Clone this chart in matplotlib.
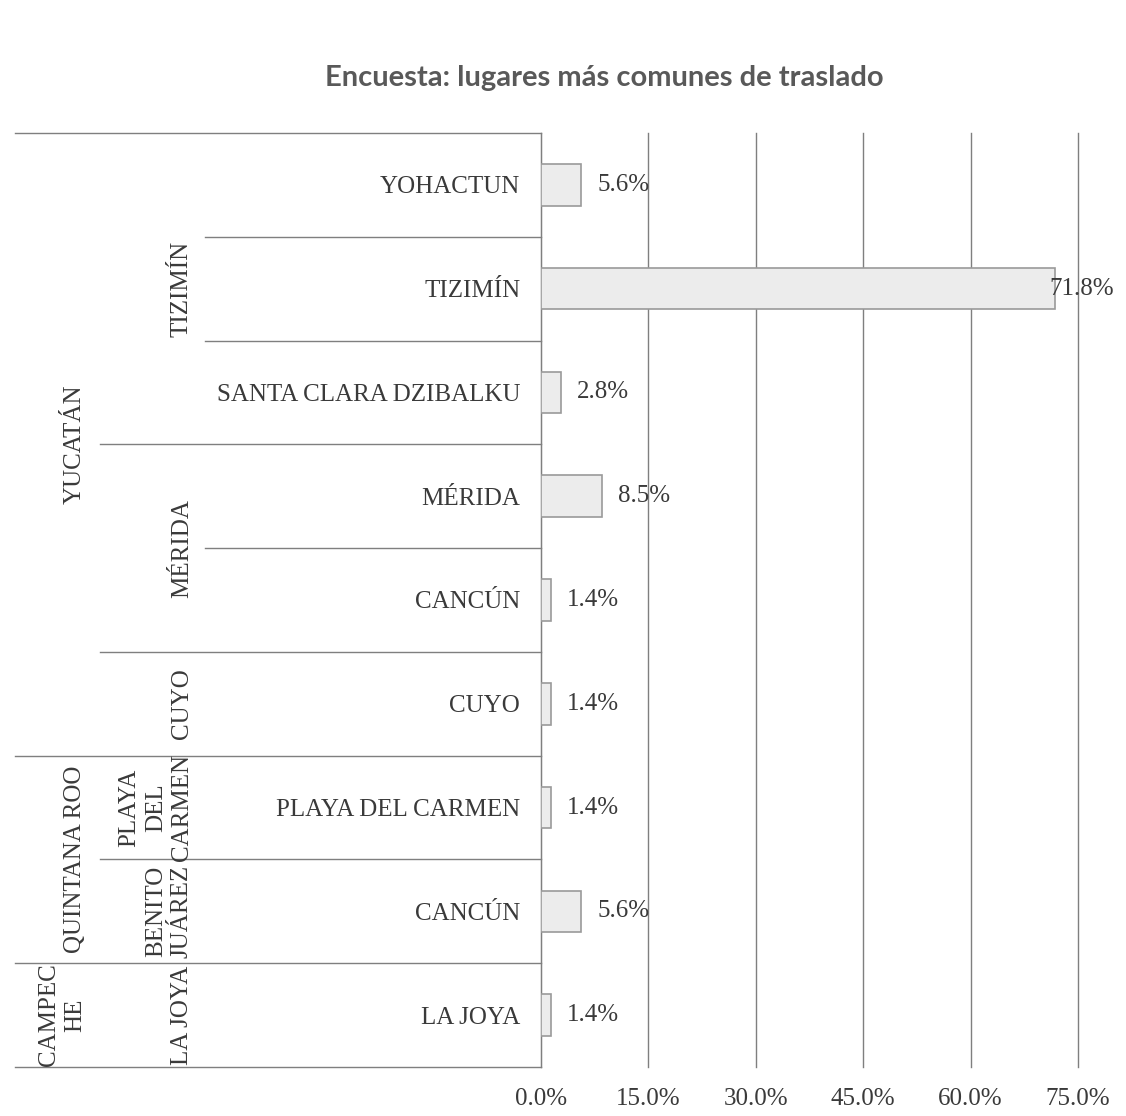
import matplotlib.pyplot as plt
import matplotlib.transforms as mtransforms

# =========================
# DATOS
# =========================

lugares = ["YOHACTUN", "TIZIMÍN", "SANTA CLARA DZIBALKU", "MÉRIDA", "CANCÚN",
           "CUYO", "PLAYA DEL CARMEN", "CANCÚN", "LA JOYA"]
porcentajes = [5.6, 71.8, 2.8, 8.5, 1.4, 1.4, 1.4, 5.6, 1.4]

# (etiqueta, primera fila, última fila)
municipios = [("TIZIMÍN", 0, 2), ("MÉRIDA", 3, 4), ("CUYO", 5, 5),
              ("PLAYA\nDEL\nCARMEN", 6, 6), ("BENITO\nJUÁREZ", 7, 7), ("LA JOYA", 8, 8)]
estados = [("YUCATÁN", 0, 5), ("QUINTANA ROO", 6, 7), ("CAMPEC\nHE", 8, 8)]

ticks = [0, 15, 30, 45, 60, 75]
titulo = "Encuesta: lugares más comunes de traslado"

# =========================
# ESTILO
# =========================

fs = 18
plt.rcParams.update({
    "font.family": ["Liberation Serif", "DejaVu Serif"],
    "font.size": fs,
    "text.color": "#3a3a3a",
})
gris = "#7f7f7f"

W, H = 1126, 1116
fig = plt.figure(figsize=(W / 100, H / 100), dpi=100)
x0, x1, ytop, ybot = 541, 1078, 133, 1067
ax = fig.add_axes([x0 / W, 1 - ybot / H, (x1 - x0) / W, (ybot - ytop) / H])

y = list(range(len(lugares)))
ax.barh(y, porcentajes, height=0.4, color="#ececec", edgecolor="#9a9a9a", linewidth=1.2, zorder=3)

for yi, v in zip(y, porcentajes):
    off = 16 if v < 70 else -6
    ax.annotate(f"{v:.1f}%", (v, yi), xytext=(off, 0), textcoords="offset pixels",
                ha="left", va="center", fontsize=fs, zorder=4)

ax.set_xlim(0, 75)
ax.set_ylim(len(lugares) - 0.5, -0.5)
ax.set_xticks(ticks)
ax.set_xticklabels([f"{t:.1f}%" for t in ticks])
ax.set_yticks(y)
ax.set_yticklabels(lugares)
ax.tick_params(axis="x", length=0, pad=15, labelcolor="#3a3a3a")
ax.tick_params(axis="y", length=0, pad=15, labelcolor="#3a3a3a")
ax.grid(axis="x", color=gris, linewidth=1, zorder=0)
for l in ax.get_xgridlines():
    l.set_clip_on(False)
for s in ["top", "right", "bottom"]:
    ax.spines[s].set_visible(False)
ax.spines["left"].set_color(gris)

# =========================
# EJES JERÁRQUICOS
# =========================

trans = mtransforms.blended_transform_factory(ax.transAxes, ax.transData)
def fx(px):
    return (px - x0) / (x1 - x0)

def linea(yv, xpx):
    ax.plot([fx(xpx), 0], [yv, yv], color=gris, lw=1, transform=trans, clip_on=False)

n = len(lugares)
fin_mun = {b for _, a, b in municipios}
fin_est = {b for _, a, b in estados}
for k in range(-1, n):
    yv = k + 0.5
    if k == -1 or k in fin_est:
        linea(yv, 15)
    elif k in fin_mun:
        linea(yv, 100)
    else:
        linea(yv, 205)

for txt, a, b in municipios:
    ax.text(fx(193), (a + b) / 2, txt, rotation=90, ha="right", va="center",
            multialignment="center", linespacing=1.25, transform=trans)
for txt, a, b in estados:
    ax.text(fx(86), (a + b) / 2, txt, rotation=90, ha="right", va="center",
            multialignment="center", linespacing=1.25, transform=trans)

fig.text(604 / W, 1 - 78 / H, titulo, ha="center", va="center", fontsize=21,
         fontweight="bold", family="Lato", color="#595959")

fig.savefig("out.png", dpi=100, facecolor="white")
